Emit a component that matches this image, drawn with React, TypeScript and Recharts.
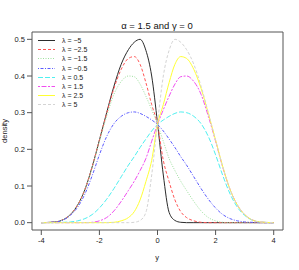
import { LineChart, Line, XAxis, YAxis, Legend, ReferenceArea } from 'recharts'

document.body.style.margin = '0'

// grid of y values shared by all curves
const Y_GRID = [-4, -3.5, -3.25, -3, -2.75, -2.5, -2.25, -2, -1.75, -1.5, -1.25, -1, -0.8, -0.6, -0.4, -0.2, 0,
  0.2, 0.4, 0.6, 0.8, 1, 1.25, 1.5, 1.75, 2, 2.25, 2.5, 2.75, 3, 3.25, 3.5, 4]

const DENS_M5 = [0, 0.002, 0.008, 0.022, 0.048, 0.09, 0.152, 0.225, 0.3, 0.372, 0.432, 0.472, 0.492, 0.5, 0.47, 0.4, 0.272,
  0.13, 0.028, 0.006, 0.001, 0, 0, 0, 0, 0, 0, 0, 0, 0, 0, 0, 0]
const DENS_M25 = [0, 0.002, 0.008, 0.022, 0.048, 0.09, 0.152, 0.225, 0.298, 0.366, 0.418, 0.448, 0.453, 0.432, 0.382, 0.322, 0.268,
  0.17, 0.112, 0.062, 0.03, 0.014, 0.005, 0.001, 0, 0, 0, 0, 0, 0, 0, 0, 0]
const DENS_M15 = [0, 0.002, 0.008, 0.022, 0.048, 0.09, 0.15, 0.222, 0.29, 0.35, 0.385, 0.4, 0.398, 0.378, 0.345, 0.308, 0.268,
  0.222, 0.175, 0.142, 0.113, 0.088, 0.058, 0.032, 0.014, 0.005, 0.001, 0, 0, 0, 0, 0, 0]
const DENS_M05 = [0, 0.002, 0.007, 0.02, 0.042, 0.078, 0.128, 0.185, 0.235, 0.27, 0.29, 0.3, 0.302, 0.298, 0.29, 0.28, 0.268,
  0.25, 0.228, 0.205, 0.18, 0.157, 0.125, 0.093, 0.064, 0.04, 0.022, 0.011, 0.005, 0.002, 0.001, 0, 0]
const DENS_P05 = [0, 0, 0.001, 0.002, 0.005, 0.011, 0.022, 0.04, 0.064, 0.093, 0.125, 0.157, 0.18, 0.205, 0.228, 0.25, 0.268,
  0.28, 0.29, 0.298, 0.302, 0.3, 0.29, 0.27, 0.235, 0.185, 0.128, 0.078, 0.042, 0.02, 0.007, 0.002, 0]
const DENS_P15 = [0, 0, 0, 0, 0, 0, 0.001, 0.005, 0.014, 0.032, 0.058, 0.088, 0.113, 0.142, 0.175, 0.222, 0.268,
  0.308, 0.345, 0.378, 0.398, 0.4, 0.385, 0.35, 0.29, 0.222, 0.15, 0.09, 0.048, 0.022, 0.008, 0.002, 0]
const DENS_P25 = [0, 0, 0, 0, 0, 0, 0, 0, 0, 0.001, 0.005, 0.014, 0.03, 0.062, 0.112, 0.17, 0.268,
  0.322, 0.382, 0.432, 0.453, 0.448, 0.418, 0.366, 0.298, 0.225, 0.152, 0.09, 0.048, 0.022, 0.008, 0.002, 0]
const DENS_P5 = [0, 0, 0, 0, 0, 0, 0, 0, 0, 0, 0, 0, 0.001, 0.006, 0.028, 0.13, 0.272,
  0.4, 0.47, 0.5, 0.492, 0.472, 0.432, 0.372, 0.3, 0.225, 0.152, 0.09, 0.048, 0.022, 0.008, 0.002, 0]

const LAMBDA_LABELS = ['λ = −5', 'λ = −2.5', 'λ = −1.5', 'λ = −0.5', 'λ = 0.5', 'λ = 1.5', 'λ = 2.5', 'λ = 5']
const X_TICKS = [-4, -2, 0, 2, 4]
const Y_TICKS = [0, 0.1, 0.2, 0.3, 0.4, 0.5]

const SERIES = [
  { key: 'm5', vals: DENS_M5, color: '#2b2b2b', dash: undefined },
  { key: 'm25', vals: DENS_M25, color: '#f55', dash: '3 2' },
  { key: 'm15', vals: DENS_M15, color: '#9de09d', dash: '1 1.5' },
  { key: 'm05', vals: DENS_M05, color: '#5b5bff', dash: '1 1.5 3 1.5' },
  { key: 'p05', vals: DENS_P05, color: '#4ef0f0', dash: '5 2' },
  { key: 'p15', vals: DENS_P15, color: '#f04ef0', dash: '2 1.5 5 1.5' },
  { key: 'p25', vals: DENS_P25, color: '#ffff33', dash: undefined },
  { key: 'p5', vals: DENS_P5, color: '#d4d4d4', dash: '3 2' },
]

const data = Y_GRID.map((y, i) => {
  const row: Record<string, number> = { y }
  SERIES.forEach((s) => { row[s.key] = s.vals[i] })
  return row
})

const FONT = '"Liberation Sans", Arial, sans-serif'

function LegendBox() {
  return (
    <div style={{ fontFamily: FONT, fontSize: 7, color: '#222' }}>
      {SERIES.map((s, i) => (
        <div key={s.key} style={{ height: 9.2, display: 'flex', alignItems: 'center' }}>
          <svg width={26} height={9} style={{ display: 'block' }}>
            <line x1={2} x2={19} y1={4.5} y2={4.5} stroke={s.color} strokeWidth={1} strokeDasharray={s.dash} />
          </svg>
          <span style={{ whiteSpace: 'nowrap' }}>{LAMBDA_LABELS[i]}</span>
        </div>
      ))}
    </div>
  )
}

export default function App() {
  return (
    <div style={{ position: 'relative', width: 299, height: 270, background: '#fff', fontFamily: FONT }}>
      <LineChart width={299} height={270} data={data} margin={{ top: 32, right: 16, bottom: 0, left: 0 }}>
        <XAxis
          dataKey="y"
          type="number"
          domain={[-4.32, 4.32]}
          ticks={X_TICKS}
          axisLine={false}
          tickSize={5}
          tickMargin={3}
          height={40}
          tickLine={{ stroke: '#555' }}
          tick={{ fontSize: 7.5, fill: '#222', fontFamily: FONT }}
        />
        <YAxis
          type="number"
          domain={[-0.02, 0.52]}
          ticks={Y_TICKS}
          tickFormatter={(v: number) => v.toFixed(1)}
          axisLine={false}
          tickSize={5}
          width={32}
          tickLine={{ stroke: '#555' }}
          tick={{ fontSize: 7.5, fill: '#222', fontFamily: FONT }}
        />
        <ReferenceArea x1={-4.32} x2={4.32} y1={-0.02} y2={0.52} fill="none" stroke="#555" strokeWidth={1} ifOverflow="visible" />
        {SERIES.map((s) => (
          <Line
            key={s.key}
            type="monotone"
            dataKey={s.key}
            stroke={s.color}
            strokeWidth={1}
            strokeDasharray={s.dash}
            dot={false}
            isAnimationActive={false}
          />
        ))}
        <Legend
          layout="horizontal"
          align="center"
          verticalAlign="middle"
          content={() => <LegendBox />}
          wrapperStyle={{ left: 36, top: 36, width: 70 }}
        />
      </LineChart>
      <div style={{ position: 'absolute', left: 0, width: 314, top: 20, textAlign: 'center', fontSize: 9.5, color: '#111' }}>
        α = 1.5 and γ = 0
      </div>
      <div style={{ position: 'absolute', left: 157, top: 253, transform: 'translateX(-50%)', fontSize: 7.5, color: '#222' }}>
        y
      </div>
      <div style={{ position: 'absolute', left: 4, top: 131, transform: 'translate(-50%, -50%) rotate(-90deg)', fontSize: 7.5, color: '#222' }}>
        density
      </div>
    </div>
  )
}
